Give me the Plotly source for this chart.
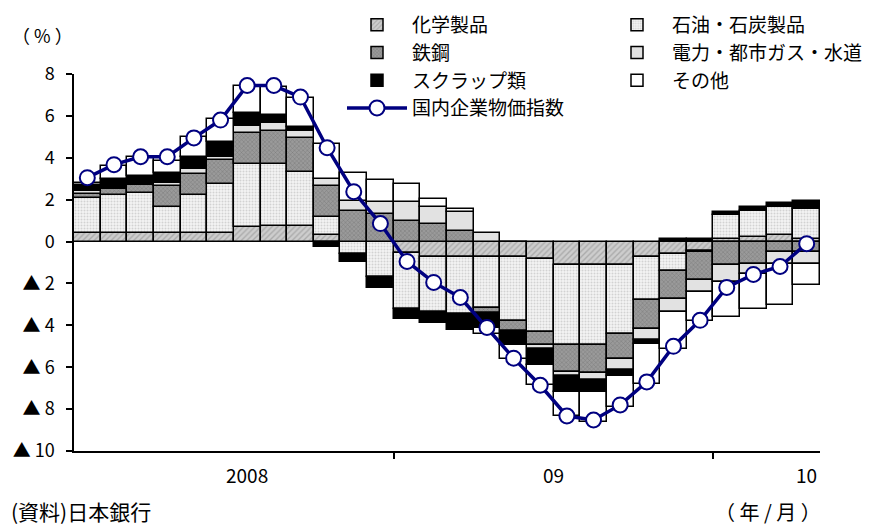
import plotly.graph_objects as go

months = ["2008/01", "2008/02", "2008/03", "2008/04", "2008/05", "2008/06",
          "2008/07", "2008/08", "2008/09", "2008/10", "2008/11", "2008/12",
          "2009/01", "2009/02", "2009/03", "2009/04", "2009/05", "2009/06",
          "2009/07", "2009/08", "2009/09", "2009/10", "2009/11", "2009/12",
          "2010/01", "2010/02", "2010/03", "2010/04"]

chem = [0.40, 0.40, 0.40, 0.40, 0.40, 0.40, 0.70, 0.76, 0.76, 0.30, 0.00, 0.00,
        -0.55, -0.75, -0.75, -0.72, -0.72, -0.83, -1.14, -1.14, -1.10, -0.75, -0.59, -0.43,
        0.13, 0.20, 0.32, 0.13]
petro = [1.70, 1.80, 1.90, 1.25, 1.80, 2.35, 3.00, 2.94, 2.54, 0.85, -0.60, -1.70,
         -2.65, -2.60, -2.73, -2.45, -3.05, -3.49, -3.80, -3.80, -3.29, -2.03, -0.80, -0.05,
         1.14, 1.24, 1.31, 1.43]
steel = [0.15, 0.30, 0.40, 1.00, 1.03, 1.15, 1.50, 1.60, 1.64, 1.50, 1.48, 1.30,
         1.00, 0.84, 0.52, -0.24, -0.48, -0.63, -1.27, -1.32, -1.24, -1.38, -1.35, -1.35,
         -1.11, -1.06, -0.51, -0.51]
elec = [0.15, 0.05, 0.05, 0.15, 0.24, 0.15, 0.30, 0.35, 0.35, 0.33, 0.48, 0.60,
        0.87, 0.80, 0.87, 0.40, 0.00, -0.16, -0.20, -0.35, -0.51, -0.56, -0.63, -0.56,
        -0.80, -0.48, -0.55, -0.55]
scrap = [0.30, 0.45, 0.40, 0.45, 0.56, 0.70, 0.65, 0.40, 0.20, -0.25, -0.37, -0.50,
         -0.48, -0.55, -0.73, -0.71, -0.71, -0.79, -0.75, -0.56, -0.27, -0.16, 0.13, 0.10,
         0.13, 0.19, 0.21, 0.40]
other = [0.10, 0.60, 0.90, 0.60, 0.97, 1.10, 1.30, 1.35, 1.38, 1.70, 1.30, 1.05,
         0.87, 0.40, 0.15, -0.30, -0.63, -0.95, -1.19, -1.43, -1.48, -1.90, -1.76, -1.42,
         -1.68, -1.66, -1.97, -1.03]
cgpi = [3.05, 3.67, 4.05, 4.05, 4.95, 5.80, 7.45, 7.45, 6.90, 4.48, 2.38, 0.86,
        -0.95, -1.95, -2.67, -4.10, -5.57, -6.86, -8.33, -8.52, -7.80, -6.70, -5.00, -3.76,
        -2.19, -1.57, -1.19, -0.10]

series_names = ["化学製品", "石油・石炭製品", "鉄鋼", "電力・都市ガス・水道", "スクラップ類", "その他"]
series_legend = ["legend", "legend2", "legend", "legend2", "legend", "legend2"]
line_name = "国内企業物価指数"
year_labels = ["2008", "09", "10"]
year_label_pos = [6.0, 17.5, 27.0]
year_bounds = [11.5, 23.5]
ytick_vals = [8, 6, 4, 2, 0, -2, -4, -6, -8, -10]
ytick_text = ["8", "6", "4", "2", "0", "▲ 2", "▲ 4", "▲ 6", "▲ 8", "▲ 10"]

x = list(range(len(months)))
FONT = "Noto Sans CJK JP"

styles = [
    dict(color="#c4c4c4", pattern=dict(shape="/", fgcolor="#8a8a8a", bgcolor="#cdcdcd", size=4, solidity=0.35)),
    dict(color="#f0f0f0", pattern=dict(shape=".", fgcolor="#b0b0b0", bgcolor="#f4f4f4", size=3, solidity=0.35)),
    dict(color="#8a8a8a", pattern=dict(shape="x", fgcolor="#5a5a5a", bgcolor="#9a9a9a", size=3, solidity=0.3)),
    dict(color="#e2e2e2"),
    dict(color="#000000"),
    dict(color="#ffffff"),
]

fig = go.Figure()
for name, vals, st, lg in zip(series_names, [chem, petro, steel, elec, scrap, other], styles, series_legend):
    fig.add_trace(go.Bar(
        x=x, y=vals, name=name, legend=lg,
        marker=dict(**st, line=dict(color="#000000", width=1.5)),
    ))

fig.add_trace(go.Scatter(
    x=x, y=cgpi, name=line_name, mode="lines+markers", legend="legend",
    line=dict(color="#000080", width=3.5),
    marker=dict(size=15, color="#ffffff", line=dict(color="#000080", width=2)),
))

# The page adds an 8px body margin, so the figure is laid out 8px smaller
OFF = 8
W, H = 872 - OFF, 528 - OFF
L, R, T, B = 74 - OFF, 52, 74 - OFF, 77
pw, ph = W - L - R, H - T - B


def px_to_paper(px, py):
    # px, py are page pixel positions
    return (px - OFF - L) / pw, 1 - (py - OFF - T) / ph


annotations = []
for lab, pos in zip(year_labels, year_label_pos):
    annotations.append(dict(x=pos, y=-23 / ph, xref="x", yref="paper", text=lab,
                            showarrow=False, font=dict(size=19, family=FONT),
                            xanchor="center", yanchor="middle"))

ax, ay = px_to_paper(10, 35)
annotations.append(dict(x=ax, y=ay, xref="paper", yref="paper", xanchor="left", yanchor="middle",
                        text="（ % ）", showarrow=False, font=dict(size=18, family=FONT)))
ax, ay = px_to_paper(9, 511)
annotations.append(dict(x=ax, y=ay, xref="paper", yref="paper", xanchor="left", yanchor="middle",
                        text="(資料)日本銀行", showarrow=False, font=dict(size=21, family=FONT)))
ax, ay = px_to_paper(823, 511)
annotations.append(dict(x=ax, y=ay, xref="paper", yref="paper", xanchor="right", yanchor="middle",
                        text="（ 年 / 月 ）", showarrow=False, font=dict(size=20, family=FONT)))

lx1, ly = px_to_paper(342, 6)
lx2, _ = px_to_paper(602, 6)
legend_common = dict(orientation="v", yanchor="top", xanchor="left",
                     font=dict(size=19, family=FONT), bgcolor="rgba(0,0,0,0)",
                     itemwidth=60, tracegroupgap=0, traceorder="normal")

fig.update_layout(
    width=W, height=H,
    margin=dict(l=L, r=R, t=T, b=B, autoexpand=False),
    paper_bgcolor="#ffffff", plot_bgcolor="#ffffff",
    barmode="relative", bargap=0,
    font=dict(family=FONT, size=16, color="#000000"),
    showlegend=True,
    legend=dict(x=lx1, y=ly, **legend_common),
    legend2=dict(x=lx2, y=ly, **legend_common),
    xaxis=dict(range=[-0.5, 27.5], showgrid=False, zeroline=False,
               showline=True, linecolor="#000000", linewidth=1.5,
               tickvals=year_bounds, ticks="outside", ticklen=6, tickwidth=1.5,
               tickcolor="#000000", showticklabels=False),
    yaxis=dict(range=[-10, 8], showgrid=False, zeroline=False,
               showline=True, linecolor="#000000", linewidth=1.5,
               tickvals=ytick_vals, ticktext=ytick_text, ticks="outside",
               ticklen=6, tickwidth=1.5, tickcolor="#000000",
               ticklabelstandoff=8,
               tickfont=dict(size=18, family=FONT)),
    annotations=annotations,
)

fig.write_html("out.html")
